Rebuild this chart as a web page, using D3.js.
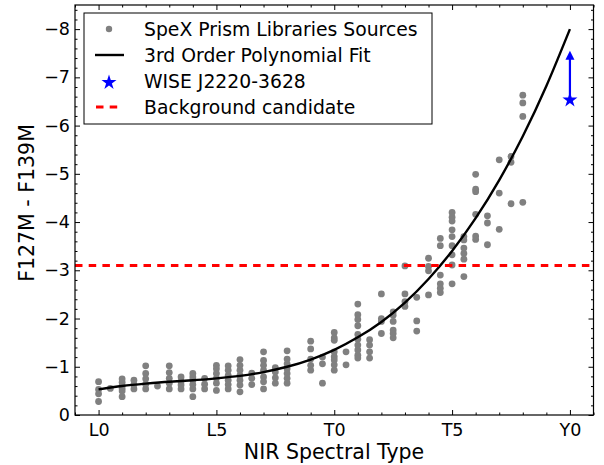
<!DOCTYPE html>
<html>
<head>
<meta charset="utf-8">
<script src="https://cdn.jsdelivr.net/npm/d3@7"></script>
<style>
  body { margin: 0; background: #fff; }
  text { font-family: "DejaVu Sans", sans-serif; fill: #000; }
</style>
</head>
<body>
<svg id="chart" width="604" height="465"></svg>
<script>
// Spectral type index: L0 = 10, T0 = 20, Y0 = 30
const typeColumns = [10, 10.5, 11, 11.5, 12, 12.5, 13, 13.5, 14, 14.5, 15, 15.5, 16, 16.5,
  17, 17.5, 18, 19, 19.5, 20, 20.5, 21, 21.5, 22, 22.5, 23, 23.5, 24, 24.5, 25, 25.5,
  26, 26.5, 27, 27.5, 28];

// F127M - F139M colours of the library sources, one list per spectral type
const colorColumns = [
  [-0.69, -0.53, -0.44, -0.28],
  [-0.55],
  [-0.75, -0.68, -0.61, -0.55, -0.50, -0.38],
  [-0.72, -0.63, -0.54],
  [-1.02, -0.86, -0.75, -0.64, -0.54],
  [-0.60],
  [-1.02, -0.88, -0.76, -0.66, -0.54],
  [-0.79, -0.69, -0.62, -0.54],
  [-0.86, -0.79, -0.72, -0.63, -0.54, -0.38],
  [-0.76, -0.64, -0.54],
  [-1.03, -0.96, -0.86, -0.76, -0.66, -0.51],
  [-1.02, -0.93, -0.82, -0.72, -0.63, -0.54],
  [-1.15, -1.03, -0.93, -0.82, -0.72, -0.62, -0.48],
  [-0.87, -0.76, -0.63],
  [-1.31, -1.13, -1.03, -0.93, -0.79, -0.69, -0.54],
  [-0.98, -0.89, -0.77, -0.66],
  [-1.33, -1.16, -1.06, -0.96, -0.86, -0.76, -0.66],
  [-1.53, -1.37, -1.16, -1.03, -0.93],
  [-1.20, -1.06, -0.66],
  [-1.71, -1.60, -1.55, -1.31, -1.21, -1.14, -1.04, -0.93],
  [-1.31, -1.04],
  [-2.30, -2.08, -1.98, -1.85, -1.67, -1.57, -1.45, -1.35, -1.24, -1.18],
  [-1.56, -1.45, -1.31, -1.18],
  [-2.51, -2.00, -1.94, -1.69],
  [-2.14, -2.07, -1.94, -1.76, -1.69, -1.60],
  [-3.09, -2.51, -2.35, -2.25],
  [-2.44, -1.95, -1.74],
  [-3.25, -3.08, -2.99, -2.49],
  [-3.66, -3.51, -2.90, -2.72, -2.63, -2.54],
  [-4.20, -4.10, -4.02, -3.84, -3.70, -3.51, -3.32, -3.11, -2.72],
  [-3.70, -3.63, -3.46, -3.35, -3.23, -2.87],
  [-4.99, -4.68, -4.63, -4.16, -3.71, -3.64],
  [-4.13, -3.98, -3.53],
  [-5.29, -4.60, -3.85],
  [-5.36, -5.24, -4.38],
  [-6.63, -6.47, -6.19, -4.41]
];

// Third order polynomial fit, sampled at each spectral subtype
const fitTypes = [10, 11, 12, 13, 14, 15, 16, 17, 18, 19, 20, 21, 22, 23, 24, 25, 26, 27, 28, 29, 30];
const fitColors = [-0.53, -0.60, -0.65, -0.69, -0.72, -0.76, -0.81, -0.89, -1.00, -1.15, -1.35,
  -1.61, -1.93, -2.33, -2.82, -3.40, -4.08, -4.87, -5.78, -6.82, -8.00];

// WISE J2220-3628 and its colour limit
const wiseType = 30;
const wiseColor = -6.55;
const wiseLimit = -7.55;

// Background candidate threshold
const backgroundColor = -3.1;

const xTickValues = [10, 15, 20, 25, 30];
const xTickLabels = ["L0", "L5", "T0", "T5", "Y0"];
const yTickValues = [0, -1, -2, -3, -4, -5, -6, -7, -8];

const legendLabels = ["SpeX Prism Libraries Sources", "3rd Order Polynomial Fit",
  "WISE J2220-3628", "Background candidate"];

const svg = d3.select("#chart");
const plotLeft = 75, plotRight = 593.5, plotTop = 5, plotBottom = 415;

const x = d3.scaleLinear().domain([9, 31]).range([plotLeft, plotRight]);
const y = d3.scaleLinear().domain([0, -8.5]).range([plotBottom, plotTop]);

const grey = "#808080";
const points = typeColumns.flatMap((t, i) => colorColumns[i].map(c => ({ t, c })));

// Library sources
svg.append("g").selectAll("circle").data(points).join("circle")
  .attr("cx", d => x(d.t)).attr("cy", d => y(d.c)).attr("r", 3.4)
  .attr("fill", grey);

// Polynomial fit
const line = d3.line().x((d, i) => x(fitTypes[i])).y(d => y(d)).curve(d3.curveNatural);
svg.append("path").datum(fitColors).attr("d", line)
  .attr("fill", "none").attr("stroke", "#000").attr("stroke-width", 2.4);

// Background candidate threshold
svg.append("line")
  .attr("x1", plotLeft).attr("x2", plotRight).attr("y1", y(backgroundColor)).attr("y2", y(backgroundColor))
  .attr("stroke", "#ff0000").attr("stroke-width", 3).attr("stroke-dasharray", "7.5,6.2");

// WISE object and upward arrow
const blue = "#0000ff";
const tipY = y(wiseLimit);
svg.append("line")
  .attr("x1", x(wiseType)).attr("x2", x(wiseType))
  .attr("y1", y(wiseColor)).attr("y2", tipY + 6)
  .attr("stroke", blue).attr("stroke-width", 2.2);
svg.append("path")
  .attr("d", `M${x(wiseType)},${tipY} l-4.5,9 l9,0 z`)
  .attr("fill", blue);
const star = d3.symbol().type(d3.symbolStar).size(70);
svg.append("path").attr("d", star())
  .attr("transform", `translate(${x(wiseType)},${y(wiseColor) + 1})`)
  .attr("fill", blue);

// Axes with inward ticks on all four sides
const fontSize = 17.5;
const xMinor = d3.range(9, 32, 1).filter(v => !xTickValues.includes(v));
const yMinor = d3.range(0, -8.6, -0.2).map(v => +v.toFixed(1)).filter(v => !yTickValues.includes(v));

function styleAxis(g) {
  g.select(".domain").remove();
  g.selectAll("line").attr("stroke", "#000");
  g.selectAll("text").attr("font-size", fontSize).attr("font-family", "DejaVu Sans").attr("fill", "#000");
}

svg.append("g").attr("transform", `translate(0,${plotBottom})`)
  .call(d3.axisBottom(x).tickValues(xTickValues).tickFormat((d, i) => xTickLabels[i])
    .tickSizeInner(-5).tickSizeOuter(0).tickPadding(9)).call(styleAxis);
svg.append("g").attr("transform", `translate(0,${plotBottom})`)
  .call(d3.axisBottom(x).tickValues(xMinor).tickFormat("").tickSizeInner(-2.5).tickSizeOuter(0)).call(styleAxis);
svg.append("g").attr("transform", `translate(0,${plotTop})`)
  .call(d3.axisTop(x).tickValues(xTickValues).tickFormat("").tickSizeInner(-5).tickSizeOuter(0)).call(styleAxis);
svg.append("g").attr("transform", `translate(0,${plotTop})`)
  .call(d3.axisTop(x).tickValues(xMinor).tickFormat("").tickSizeInner(-2.5).tickSizeOuter(0)).call(styleAxis);

svg.append("g").attr("transform", `translate(${plotLeft},0)`)
  .call(d3.axisLeft(y).tickValues(yTickValues)
    .tickFormat(d => d === 0 ? "0" : "\u2212" + Math.abs(d))
    .tickSizeInner(-5).tickSizeOuter(0).tickPadding(5)).call(styleAxis);
svg.append("g").attr("transform", `translate(${plotLeft},0)`)
  .call(d3.axisLeft(y).tickValues(yMinor).tickFormat("").tickSizeInner(-2.5).tickSizeOuter(0)).call(styleAxis);
svg.append("g").attr("transform", `translate(${plotRight},0)`)
  .call(d3.axisRight(y).tickValues(yTickValues).tickFormat("").tickSizeInner(-5).tickSizeOuter(0)).call(styleAxis);
svg.append("g").attr("transform", `translate(${plotRight},0)`)
  .call(d3.axisRight(y).tickValues(yMinor).tickFormat("").tickSizeInner(-2.5).tickSizeOuter(0)).call(styleAxis);

// Plot frame
svg.append("rect").attr("x", plotLeft).attr("y", plotTop)
  .attr("width", plotRight - plotLeft).attr("height", plotBottom - plotTop)
  .attr("fill", "none").attr("stroke", "#000").attr("stroke-width", 1.2);

// Axis titles
svg.append("text").attr("x", 334).attr("y", 459)
  .attr("text-anchor", "middle").attr("font-size", 20.5).text("NIR Spectral Type");
svg.append("text").attr("transform", "translate(33.5,203) rotate(-90)")
  .attr("text-anchor", "middle").attr("font-size", 20.5).text("F127M - F139M");

// Legend
const lg = svg.append("g");
lg.append("rect").attr("x", 84).attr("y", 13).attr("width", 348).attr("height", 111)
  .attr("fill", "#fff").attr("stroke", "#000").attr("stroke-width", 1);
const rowY = [29, 55, 81.5, 107];
lg.append("circle").attr("cx", 109).attr("cy", rowY[0]).attr("r", 3.2).attr("fill", grey);
lg.append("line").attr("x1", 95).attr("x2", 124).attr("y1", rowY[1]).attr("y2", rowY[1])
  .attr("stroke", "#000").attr("stroke-width", 2.4);
lg.append("path").attr("d", star()).attr("transform", `translate(109,${rowY[2] + 1})`).attr("fill", blue);
lg.append("line").attr("x1", 96).attr("x2", 118).attr("y1", rowY[3]).attr("y2", rowY[3])
  .attr("stroke", "#ff0000").attr("stroke-width", 3).attr("stroke-dasharray", "7.5,6.2");
lg.selectAll("text.label").data(legendLabels).join("text").attr("class", "label")
  .attr("x", 144).attr("y", (d, i) => rowY[i] + 6.5)
  .attr("font-size", 18.8).text(d => d);
</script>
</body>
</html>
